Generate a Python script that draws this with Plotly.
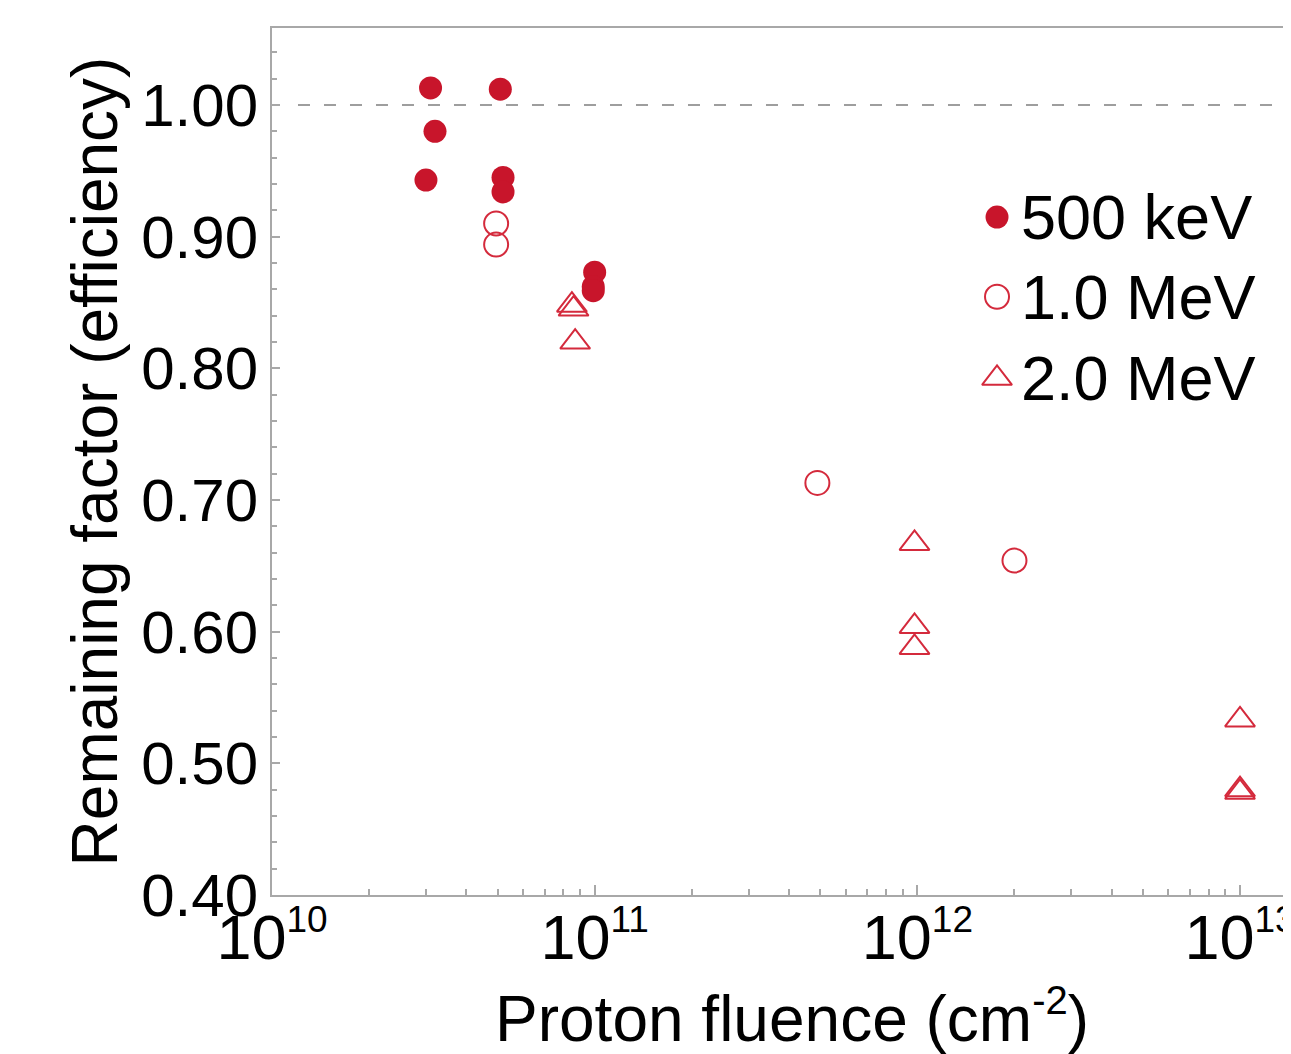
import plotly.graph_objects as go

# ---- data ----
kev500_x = [3.1e10, 5.1e10, 3.2e10, 3.0e10, 5.2e10, 5.2e10, 1.0e11, 9.9e10, 9.9e10]
kev500_y = [1.013, 1.012, 0.980, 0.943, 0.945, 0.934, 0.873, 0.862, 0.859]

mev1_x = [4.95e10, 4.95e10, 4.9e11, 2.0e12]
mev1_y = [0.910, 0.894, 0.713, 0.654]

mev2_x = [8.5e10, 8.6e10, 8.7e10, 9.8e11, 9.8e11, 9.8e11, 1.0e13, 1.0e13, 1.0e13]
mev2_y = [0.848, 0.845, 0.820, 0.667, 0.604, 0.588, 0.533, 0.480, 0.478]

series_names = ["500 keV", "1.0 MeV", "2.0 MeV"]

x_tick_vals = [1e10, 1e11, 1e12, 1e13]
x_tick_exps = ["10", "11", "12", "13"]

x_title = "Proton fluence (cm<sup><span style='font-size:40px'>-2</span></sup>)"
y_title = "Remaining factor (efficiency)"

FONT = "Liberation Sans, Arial, sans-serif"
RED_FILL = "#C8152B"
RED_LINE = "#D42A3C"
AXIS_GRAY = "#A8A8A8"

W, H = 1283, 1046
ML, MR, MT, MB = 264, 0, 20, 159

styles = [
    dict(symbol="circle", size=23, color=RED_FILL, line=dict(width=0)),
    dict(symbol="circle-open", size=24, color=RED_LINE, line=dict(width=2)),
    dict(symbol="triangle-up-open", size=26, color=RED_LINE, line=dict(width=2)),
]

fig = go.Figure()
for xs, ys, name, st in zip([kev500_x, mev1_x, mev2_x], [kev500_y, mev1_y, mev2_y], series_names, styles):
    fig.add_trace(go.Scatter(x=xs, y=ys, mode="markers", name=name, marker=st, showlegend=False))

# custom legend (large keys) on an overlay unit axis
leg_x = 0.7115
leg_ys = [0.782, 0.690, 0.596]
for name, st, ly in zip(series_names, styles, leg_ys):
    fig.add_trace(go.Scatter(x=[leg_x], y=[ly], mode="markers", marker=st, xaxis="x2", yaxis="y2",
                             showlegend=False, hoverinfo="skip"))
    fig.add_annotation(x=0.733, y=ly, xref="paper", yref="paper", text=name, showarrow=False,
                       xanchor="left", yanchor="middle", font=dict(size=63, family=FONT, color="black"))

# x-axis title (as annotation to match horizontal placement)
fig.add_annotation(x=0.5105, y=-0.1396, xref="paper", yref="paper", text=x_title, showarrow=False,
                   xanchor="center", yanchor="middle", font=dict(size=64, family=FONT, color="black"))

# dashed reference line at 1.00
fig.add_shape(type="line", xref="paper", x0=0.0255, x1=1, yref="y", y0=1.0, y1=1.0,
              line=dict(color="#9E9E9E", width=2, dash="12px,14px"), layer="below")

x_tick_text = ["10<sup><span style='font-size:37px'>%s</span></sup>" % e for e in x_tick_exps]
minor_vals = [m * 10 ** e for e in range(10, 14) for m in range(2, 10)]

fig.update_layout(
    width=W, height=H,
    margin=dict(l=ML, r=MR, t=MT, b=MB, autoexpand=False),
    paper_bgcolor="white", plot_bgcolor="white",
    font=dict(family=FONT, size=62, color="black"),
    showlegend=False,
    xaxis=dict(
        type="log", range=[10, 13.158],
        showline=True, linecolor=AXIS_GRAY, linewidth=2, mirror=True,
        showgrid=False, zeroline=False,
        ticks="inside", ticklen=10, tickwidth=1.5, tickcolor=AXIS_GRAY,
        tickmode="array", tickvals=x_tick_vals, ticktext=x_tick_text,
        ticklabeloverflow="allow", ticklabelstandoff=-14,
        tickfont=dict(size=63, family=FONT),
        minor=dict(tickmode="array", tickvals=minor_vals,
                   ticks="inside", ticklen=6, tickwidth=1.5, tickcolor=AXIS_GRAY, showgrid=False),
        automargin=False,
    ),
    yaxis=dict(
        range=[0.4, 1.0585],
        showline=True, linecolor=AXIS_GRAY, linewidth=2, mirror=False,
        showgrid=False, zeroline=False,
        ticks="inside", ticklen=8, tickwidth=1.5, tickcolor=AXIS_GRAY,
        tick0=0.4, dtick=0.1, tickformat=".2f",
        tickfont=dict(size=60, family=FONT),
        minor=dict(dtick=0.02, tick0=0.4, ticks="inside", ticklen=5, tickwidth=1.5, tickcolor=AXIS_GRAY, showgrid=False),
        title=dict(text=y_title, font=dict(size=64, family=FONT), standoff=3),
        automargin=False,
    ),
    xaxis2=dict(overlaying="x", range=[0, 1], visible=False, fixedrange=True),
    yaxis2=dict(overlaying="y", range=[0, 1], visible=False, fixedrange=True),
)

fig.write_html("out.html")
